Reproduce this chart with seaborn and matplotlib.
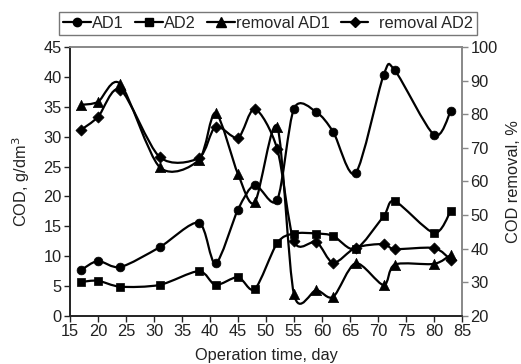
import numpy as np
import pandas as pd
import matplotlib
matplotlib.use("Agg")
import matplotlib.pyplot as plt
from matplotlib.path import Path
from matplotlib.patches import PathPatch
from matplotlib.lines import Line2D
import seaborn as sns

# ---- data ----
days = [17, 20, 24, 31, 38, 41, 45, 48, 52, 55, 59, 62, 66, 71, 73, 80, 83]
ad1 = [7.7, 9.2, 8.2, 11.5, 15.6, 8.8, 17.8, 21.9, 19.4, 34.7, 34.1, 30.8, 23.9, 40.3, 41.1, 30.3, 34.3]
ad2 = [5.7, 5.9, 4.9, 5.2, 7.5, 5.2, 6.5, 4.5, 12.2, 13.8, 13.8, 13.4, 11.2, 16.7, 19.2, 13.9, 17.6]
removal_ad1 = [82.8, 83.7, 89.0, 64.3, 66.4, 80.4, 62.2, 53.8, 76.3, 26.4, 27.7, 25.7, 35.7, 29.2, 35.3, 35.5, 38.2]
removal_ad2 = [75.4, 79.2, 87.3, 67.3, 67.0, 76.3, 73.0, 81.6, 69.7, 42.2, 42.0, 35.8, 40.3, 41.4, 39.9, 40.2, 36.7]

x_ticks = list(range(15, 86, 5))
left_ticks = list(range(0, 46, 5))
right_ticks = list(range(20, 101, 10))

sns.set_theme(style="white")
plt.rcParams['font.family'] = ['Liberation Sans', 'DejaVu Sans']
FS = 11.8

fig = plt.figure(figsize=(5.21, 3.64), dpi=100)
ax = fig.add_axes([70/521, 1-316/364, (462-70)/521, (316-47)/364])
ax2 = ax.twinx()

df = pd.DataFrame({"day": days, "AD1": ad1, "AD2": ad2,
                   "removal AD1": removal_ad1, "removal AD2": removal_ad2})


def smooth_path(x, y, k=7.0):
    pts = np.column_stack([np.asarray(x, float), np.asarray(y, float)])
    n = len(pts)
    verts = [pts[0]]
    codes = [Path.MOVETO]
    for i in range(n - 1):
        p0 = pts[i - 1] if i > 0 else pts[i]
        p1 = pts[i]
        p2 = pts[i + 1]
        p3 = pts[i + 2] if i + 2 < n else pts[i + 1]
        c1 = p1 + (p2 - p0) / k
        c2 = p2 - (p3 - p1) / k
        verts += [c1, c2, p2]
        codes += [Path.CURVE4] * 3
    return Path(verts, codes)


LW = 1.6
specs = [
    (ax, "AD1", "o", 40),
    (ax, "AD2", "s", 40),
    (ax2, "removal AD1", "^", 55),
    (ax2, "removal AD2", "D", 32),
]
for a, col, mk, s in specs:
    a.add_patch(PathPatch(smooth_path(df["day"], df[col]), facecolor="none",
                          edgecolor="black", lw=LW, transform=a.transData, zorder=2))
    sns.scatterplot(data=df, x="day", y=col, marker=mk, s=s, color="black",
                    edgecolor="black", linewidth=0.5, ax=a, zorder=3, legend=False)

ax.set_xlim(15, 85)
ax.set_ylim(0, 45)
ax2.set_ylim(20, 100)
ax.set_xticks(x_ticks)
ax.set_yticks(left_ticks)
ax2.set_yticks(right_ticks)

ax.set_xlabel("Operation time, day", fontsize=FS, color="#222222", labelpad=6)
ax.set_ylabel("COD, g/dm$^3$", fontsize=FS, color="#222222", labelpad=8)
ax2.set_ylabel("COD removal, %", fontsize=FS, color="#222222", labelpad=6)

for a in (ax, ax2):
    a.tick_params(axis="both", labelsize=FS, colors="#222222", length=4, width=1,
                  direction="out", pad=2)
ax.tick_params(axis="x", bottom=True, colors="#222222")
ax.tick_params(axis="y", left=True)
ax2.tick_params(axis="y", right=True, color="#888888", labelcolor="#222222")
ax.tick_params(axis="x", labelcolor="#222222")

for a in (ax, ax2):
    a.spines["left"].set_color("#222222")
    a.spines["bottom"].set_color("#222222")
    a.spines["top"].set_color("#888888")
    a.spines["right"].set_color("#888888")
    for sp in a.spines.values():
        sp.set_linewidth(1.2)
        sp.set_visible(True)

handles = [
    Line2D([], [], color="black", lw=LW, marker="o", ms=6),
    Line2D([], [], color="black", lw=LW, marker="s", ms=6),
    Line2D([], [], color="black", lw=LW, marker="^", ms=7),
    Line2D([], [], color="black", lw=LW, marker="D", ms=5.5),
]
labels = ["AD1", "AD2", "removal AD1", "  removal AD2"]
leg = fig.legend(handles, labels, loc="center", bbox_to_anchor=(268/521, 1-23.5/364),
                 ncol=4, fontsize=FS, frameon=True, fancybox=False,
                 edgecolor="#555555", handlelength=1.7, handletextpad=0.1,
                 columnspacing=0.65, borderpad=0.25, borderaxespad=0)
leg.get_frame().set_linewidth(1.0)

fig.savefig("out.png", dpi=100)
